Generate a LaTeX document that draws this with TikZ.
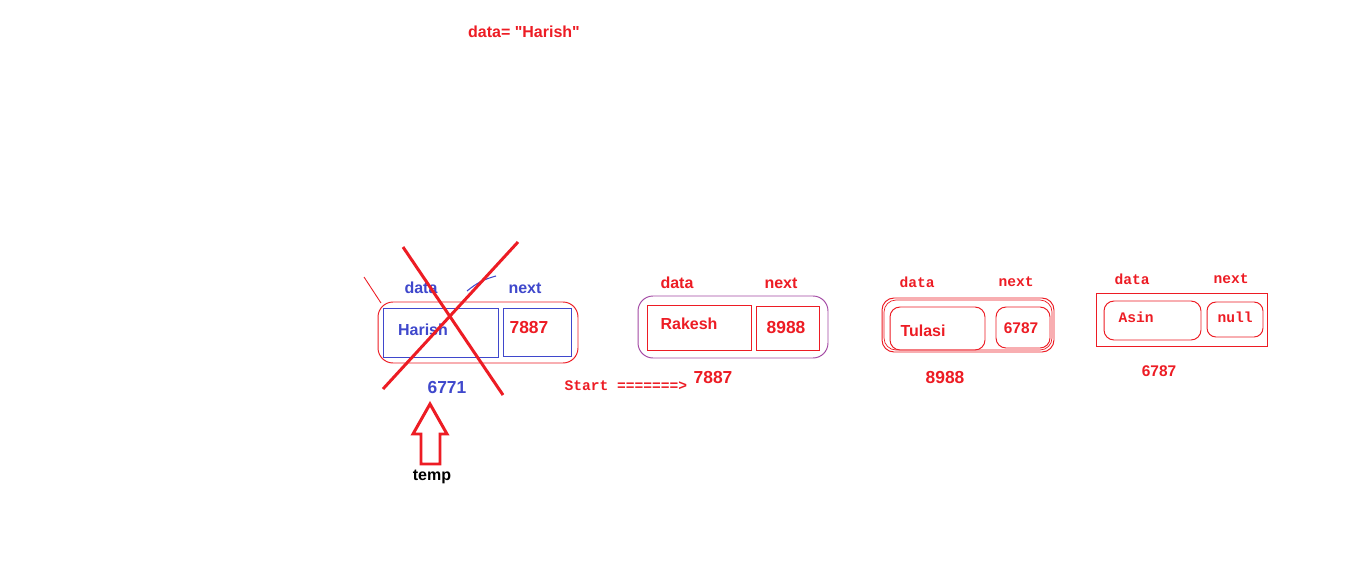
\documentclass[tikz,border=0pt]{standalone}
\usepackage{fontspec}
\setmainfont{Liberation Sans}[Ligatures=TeXOff]
\setmonofont{Liberation Mono}
\definecolor{pred}{HTML}{ED1C24}
\definecolor{pblue}{HTML}{3F48CC}
\definecolor{ppurple}{HTML}{A349A4}
\begin{document}
\begin{tikzpicture}[x=0.02cm,y=-0.02cm,
  box/.style={draw, line width=0.55pt, inner sep=0pt, outer sep=0pt},
  lbl/.style={inner sep=0pt, font=\fontsize{9.1pt}{10pt}\selectfont\bfseries},
  num/.style={inner sep=0pt, font=\fontsize{9.9pt}{11pt}\selectfont\bfseries},
  mono/.style={inner sep=0pt, font=\fontsize{8.3pt}{10pt}\selectfont\ttfamily\bfseries},
  small/.style={inner sep=0pt, font=\fontsize{8.8pt}{10pt}\selectfont\bfseries},
  cross/.style={draw=pred, line width=1.7pt}]
\useasboundingbox (0,0) rectangle (1346,561);
\fill[white] (0,0) rectangle (1346,561);

% title
\node[lbl, text=pred] (title) at (524,32) {data= "Harish"};

% node 1 (deleted)
\node[box, draw=pred, rounded corners=0.3cm, minimum width=4cm, minimum height=1.22cm] (n1) at (478,332.5) {};
\node[box, draw=pblue, minimum width=2.3cm, minimum height=0.98cm] (n1d) at (440.5,332.5) {};
\node[box, draw=pblue, minimum width=1.36cm, minimum height=0.96cm] (n1n) at (537,332) {};
\node[lbl, text=pblue] (n1dl) at (421,288) {data};
\node[lbl, text=pblue] (n1nl) at (525,288) {next};
\node[lbl, text=pblue] (n1dv) at (423,330) {Harish};
\node[num, text=pred] (n1nv) at (529,328) {7887};
\node[num, text=pblue] (n1a) at (447,388) {6771};
\coordinate (s1) at (364,277);
\coordinate (s2) at (381,303);
\draw[pred, line width=0.5pt] (s1) -- (s2);
\coordinate (b1) at (467,291);
\coordinate (b2) at (496,276);
\draw[pblue, line width=0.6pt] (b1) to[bend left=12] (b2);
\coordinate (x1) at (403,247);
\coordinate (x2) at (503,395);
\coordinate (x3) at (518,242);
\coordinate (x4) at (383,389);
\draw[cross] (x1) -- (x2);
\draw[cross] (x3) -- (x4);

% temp arrow
\draw[pred, line width=1.7pt, line join=miter] (430,404) -- (447,434) -- (440,434) -- (440,464) -- (421,464) -- (421,434) -- (413,434) -- cycle;
\node[lbl, text=black] (temp) at (432,477) {temp};

% node 2
\node[box, draw=ppurple, rounded corners=0.3cm, minimum width=3.8cm, minimum height=1.24cm] (n2) at (733,327) {};
\node[box, draw=pred, minimum width=2.08cm, minimum height=0.9cm] (n2d) at (699,327.5) {};
\node[box, draw=pred, minimum width=1.26cm, minimum height=0.88cm] (n2n) at (787.5,328) {};
\node[lbl, text=pred] (n2dl) at (677,283) {data};
\node[lbl, text=pred] (n2nl) at (781,283) {next};
\node[lbl, text=pred] (n2dv) at (689,324) {Rakesh};
\node[num, text=pred] (n2nv) at (786,328) {8988};
\node[mono, text=pred] (start) at (626,386) {Start =======>};
\node[num, text=pred] (n2a) at (713,378) {7887};

% node 3
\node[box, draw=pred, rounded corners=0.24cm, minimum width=3.44cm, minimum height=1.08cm] (n3) at (968,325) {};
\draw[pred, line width=0.4pt, rounded corners=0.24cm] (884,300) rectangle (1052,350);
\node[box, draw=pred, rounded corners=0.2cm, minimum width=1.9cm, minimum height=0.86cm] (n3d) at (937.5,328.5) {};
\node[box, draw=pred, rounded corners=0.2cm, minimum width=1.08cm, minimum height=0.82cm] (n3n) at (1023,327.5) {};
\node[mono, text=pred] (n3dl) at (917,282) {data};
\node[mono, text=pred] (n3nl) at (1016,282) {next};
\node[lbl, text=pred] (n3dv) at (923,331) {Tulasi};
\node[small, text=pred] (n3nv) at (1021,328) {6787};
\node[num, text=pred] (n3a) at (945,378) {8988};

% node 4
\node[box, draw=pred, minimum width=3.42cm, minimum height=1.06cm] (n4) at (1181.5,319.5) {};
\node[box, draw=pred, rounded corners=0.2cm, minimum width=1.94cm, minimum height=0.78cm] (n4d) at (1152.5,320.5) {};
\node[box, draw=pred, rounded corners=0.18cm, minimum width=1.12cm, minimum height=0.7cm] (n4n) at (1235,319.5) {};
\node[mono, text=pred] (n4dl) at (1132,279) {data};
\node[mono, text=pred] (n4nl) at (1231,279) {next};
\node[mono, text=pred] (n4dv) at (1136,317) {Asin};
\node[mono, text=pred] (n4nv) at (1235,317) {null};
\node[small, text=pred] (n4a) at (1159,371) {6787};
\end{tikzpicture}
\end{document}
